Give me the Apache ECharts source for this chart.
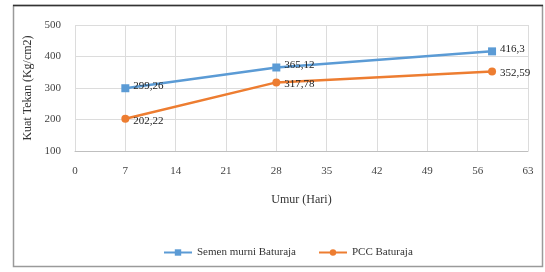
<!DOCTYPE html>
<html>
<head>
<meta charset="utf-8">
<script src="https://cdn.jsdelivr.net/npm/echarts@6/dist/echarts.min.js"></script>
<style>
html,body{margin:0;padding:0;background:#fff;}
#c{width:545px;height:272px;}
</style>
</head>
<body>
<div id="c"></div>
<script>
var days = [7, 28, 58];
var semenMurni = [299.26, 365.12, 416.3];
var pccBaturaja = [202.22, 317.78, 352.59];
var seriesNames = ['Semen murni Baturaja', 'PCC Baturaja'];
var xTitle = 'Umur (Hari)';
var yTitle = 'Kuat Tekan (Kg/cm2)';

var FONT = '"Liberation Serif", "Times New Roman", serif';
function pairs(xs, ys){ return xs.map(function(x,i){ return [x, ys[i]]; }); }
function fmt(p){ return String(p.value[1]).replace('.', ','); }

var chart = echarts.init(document.getElementById('c'));
chart.setOption({
  animation: false,
  backgroundColor: '#fff',
  graphic: [
    {type:'rect', shape:{x:13.5,y:5.5,width:529,height:261}, style:{fill:'none', stroke:'#9a9a9a', lineWidth:1.5}},
    {type:'line', shape:{x1:13,y1:5.5,x2:543,y2:5.5}, style:{stroke:'#333', lineWidth:1.5}}
  ],
  grid: {left: 75, right: 17, top: 25, bottom: 121},
  xAxis: {
    type: 'value', min: 0, max: 63, interval: 7,
    name: xTitle, nameLocation: 'middle', nameGap: 43,
    nameTextStyle: {fontFamily: FONT, fontSize: 12, color: '#333'},
    axisLine: {show: true, lineStyle: {color: '#bfbfbf'}},
    axisTick: {show: false},
    axisLabel: {fontFamily: FONT, fontSize: 11, color: '#444', margin: 15},
    splitLine: {show: true, lineStyle: {color: '#dcdcdc'}}
  },
  yAxis: {
    type: 'value', min: 100, max: 500, interval: 100,
    name: yTitle, nameLocation: 'middle', nameGap: 34, nameRotate: 90,
    nameTextStyle: {fontFamily: FONT, fontSize: 12, color: '#333'},
    axisLine: {show: false},
    axisTick: {show: false},
    axisLabel: {fontFamily: FONT, fontSize: 11, color: '#444', margin: 14},
    splitLine: {show: true, lineStyle: {color: '#dcdcdc'}}
  },
  legend: {
    top: 242, left: 158, itemGap: 22, itemWidth: 28, itemHeight: 8,
    textStyle: {fontFamily: FONT, fontSize: 11, color: '#333'},
    data: seriesNames
  },
  series: [
    {
      name: seriesNames[0], type: 'line', data: pairs(days, semenMurni),
      symbol: 'rect', symbolSize: 8,
      lineStyle: {width: 2.5, color: '#5B9BD5'},
      itemStyle: {color: '#5B9BD5'},
      label: {show: true, position: 'right', distance: 4, formatter: fmt,
        fontFamily: FONT, fontSize: 11, color: '#222', offset:[0,-2]}
    },
    {
      name: seriesNames[1], type: 'line', data: pairs(days, pccBaturaja),
      symbol: 'circle', symbolSize: 8,
      lineStyle: {width: 2.5, color: '#ED7D31'},
      itemStyle: {color: '#ED7D31'},
      label: {show: true, position: 'right', distance: 4, formatter: fmt,
        fontFamily: FONT, fontSize: 11, color: '#222', offset:[0,2]}
    }
  ]
});
</script>
</body>
</html>
